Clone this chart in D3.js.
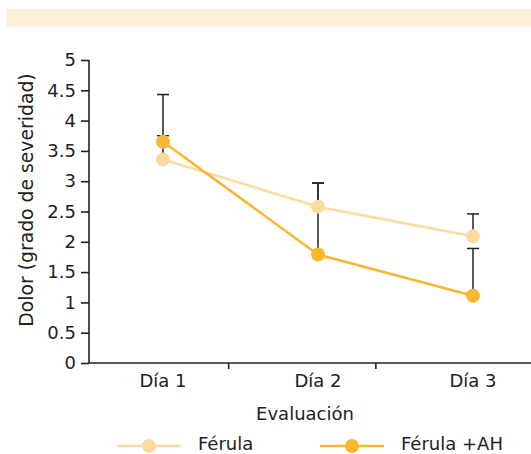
<!DOCTYPE html>
<html>
<head>
<meta charset="utf-8">
<script src="https://cdn.jsdelivr.net/npm/d3@7"></script>
<style>
  body { margin: 0; background: #fff; }
  text { font-family: "DejaVu Sans", sans-serif; fill: #222; }
  .axis path, .axis line { stroke: #222; stroke-width: 1.6; }
  .axis text { font-size: 18px; font-family: "DejaVu Sans", sans-serif; fill: #222; }
</style>
</head>
<body>
<div id="chart"></div>
<script>
// Data
let categories = ["Día 1", "Día 2", "Día 3"];
let seriesNames = ["Férula", "Férula +AH"];
let ferula = [3.36, 2.58, 2.09];
let ferulaUpper = [3.75, 2.97, 2.46];
let ferulaAH = [3.65, 1.79, 1.11];
let ferulaAHUpper = [4.43, 2.97, 1.89];
let yTicks = [0, 0.5, 1, 1.5, 2, 2.5, 3, 3.5, 4, 4.5, 5];
let sepTicks = [1.42, 2.37];
let colors = ["#FDDB9E", "#F9B731"];

let width = 531, height = 454;
let svg = d3.select("#chart").append("svg")
  .attr("width", width)
  .attr("height", height);

// top band
svg.append("rect")
  .attr("x", 6).attr("y", 9)
  .attr("width", width - 6).attr("height", 18)
  .attr("fill", "#FEF0D9");

let plotLeft = 89, plotRight = 531, plotTop = 60, plotBottom = 363;

let xScale = d3.scaleLinear().domain([0, 3]).range([8, 473]);
let yScale = d3.scaleLinear().domain([0, 5]).range([plotBottom, plotTop]);

// y axis
let yAxis = svg.append("g")
  .attr("class", "axis")
  .attr("transform", `translate(${plotLeft},0)`)
  .call(d3.axisLeft(yScale).tickValues(yTicks).tickSize(8).tickPadding(5)
        .tickFormat(d => d));
yAxis.select(".domain").attr("d", `M0,${plotTop}V${plotBottom}`);

// x axis line and separator ticks
let xAxis = svg.append("g")
  .attr("class", "axis")
  .attr("transform", `translate(0,${plotBottom})`)
  .call(d3.axisBottom(xScale).tickValues(sepTicks).tickSize(6).tickFormat(""));
xAxis.select(".domain").attr("d", `M${plotLeft},0H${plotRight}`);

// category labels
svg.append("g").selectAll("text")
  .data(categories)
  .enter().append("text")
  .attr("x", (d, i) => xScale(i + 1))
  .attr("y", plotBottom + 24)
  .attr("text-anchor", "middle")
  .style("font-size", "18px")
  .text(d => d);

// axis titles
svg.append("text")
  .attr("x", 305).attr("y", 420)
  .attr("text-anchor", "middle")
  .style("font-size", "18px")
  .text("Evaluación");
svg.append("text")
  .attr("transform", "rotate(-90)")
  .attr("x", -200).attr("y", 33)
  .attr("text-anchor", "middle")
  .style("font-size", "18.8px")
  .text("Dolor (grado de severidad)");

let series = [
  { name: seriesNames[0], values: ferula, upper: ferulaUpper, color: colors[0] },
  { name: seriesNames[1], values: ferulaAH, upper: ferulaAHUpper, color: colors[1] }
];

// error bars
let errG = svg.append("g");
series.forEach(function (s) {
  s.values.forEach(function (v, i) {
    let x = xScale(i + 1);
    errG.append("line")
      .attr("x1", x).attr("x2", x)
      .attr("y1", yScale(v)).attr("y2", yScale(s.upper[i]))
      .attr("stroke", "#222").attr("stroke-width", 1.5);
    errG.append("line")
      .attr("x1", x - 6).attr("x2", x + 6)
      .attr("y1", yScale(s.upper[i])).attr("y2", yScale(s.upper[i]))
      .attr("stroke", "#222").attr("stroke-width", 1.5);
  });
});

// lines and points
let line = d3.line()
  .x((d, i) => xScale(i + 1))
  .y(d => yScale(d));
series.forEach(function (s) {
  svg.append("path")
    .datum(s.values)
    .attr("d", line)
    .attr("fill", "none")
    .attr("stroke", s.color)
    .attr("stroke-width", 2.6);
  svg.append("g").selectAll("circle")
    .data(s.values)
    .enter().append("circle")
    .attr("cx", (d, i) => xScale(i + 1))
    .attr("cy", d => yScale(d))
    .attr("r", 7)
    .attr("fill", s.color);
});

// legend
let legendX = [117, 320];
series.forEach(function (s, i) {
  let g = svg.append("g").attr("transform", `translate(${legendX[i]},446)`);
  g.append("line")
    .attr("x1", 0).attr("x2", 64)
    .attr("stroke", s.color).attr("stroke-width", 2.6);
  g.append("circle")
    .attr("cx", 32).attr("r", 7)
    .attr("fill", s.color);
  g.append("text")
    .attr("x", 81).attr("y", 4)
    .style("font-size", "18px")
    .text(s.name);
});
</script>
</body>
</html>
